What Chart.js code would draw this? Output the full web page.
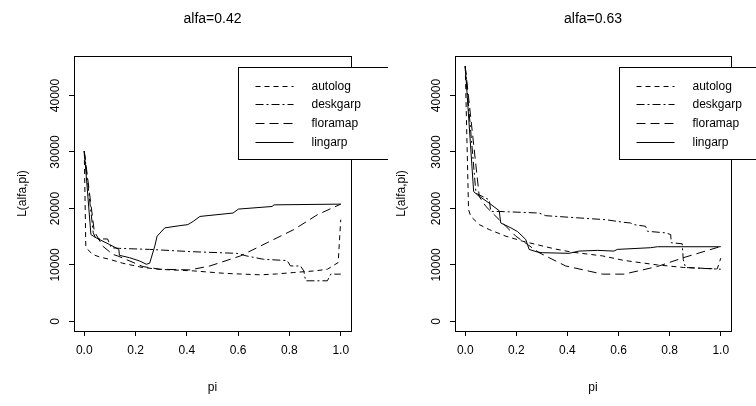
<!DOCTYPE html>
<html>
<head>
<meta charset="utf-8">
<script src="https://cdn.jsdelivr.net/npm/chart.js@4/dist/chart.umd.min.js"></script>
<style>
  body { margin: 0; background: #fff; }
  #wrap { position: relative; width: 756px; height: 406px; overflow: hidden; background: #fff; }
  #wrap canvas { position: absolute; top: 0; }
</style>
</head>
<body>
<div id="wrap">
  <canvas id="chart-042" width="388" height="406" style="left:0px"></canvas>
  <canvas id="chart-063" width="377" height="406" style="left:379px"></canvas>
</div>
<script>
// values
const panelTitles = ['alfa=0.42', 'alfa=0.63'];
const seriesNames = ['autolog', 'deskgarp', 'floramap', 'lingarp'];
const xTicks = [0, 0.2, 0.4, 0.6, 0.8, 1.0];
const yTicks = [0, 10000, 20000, 30000, 40000];

// alfa = 0.42
const autolog42Pi = [0, 0.006, 0.013, 0.033, 0.06, 0.098, 0.15, 0.228, 0.3, 0.425, 0.55, 0.686, 0.75, 0.817, 0.9, 0.948, 0.99, 1.0];
const autolog42L = [30170, 13330, 12750, 11870, 11400, 11000, 10300, 9540, 9200, 8950, 8500, 8250, 8400, 8660, 8950, 9240, 10420, 18010];
const deskgarp42Pi = [0, 0.035, 0.046, 0.091, 0.105, 0.137, 0.255, 0.418, 0.595, 0.634, 0.699, 0.791, 0.804, 0.843, 0.856, 0.863, 0.948, 0.961, 1.0];
const deskgarp42L = [30170, 15700, 14600, 14600, 13050, 12930, 12750, 12350, 12050, 11580, 11000, 10770, 9820, 9820, 8950, 7190, 7190, 8370, 8370];
const floramap42Pi = [0, 0.039, 0.072, 0.111, 0.131, 0.229, 0.294, 0.412, 0.49, 0.608, 0.713, 0.817, 0.909, 1.0];
const floramap42L = [30170, 15960, 13330, 11870, 11580, 9710, 9240, 9120, 9820, 11580, 13930, 16260, 18890, 20770];
const lingarp42Pi = [0, 0.026, 0.046, 0.098, 0.135, 0.137, 0.176, 0.216, 0.242, 0.255, 0.275, 0.284, 0.314, 0.373, 0.404, 0.425, 0.451, 0.58, 0.601, 0.732, 0.74, 1.0];
const lingarp42L = [30170, 15380, 14800, 13630, 12750, 11700, 11290, 10700, 10120, 10300, 13330, 15090, 16560, 16960, 17140, 17720, 18590, 19190, 19890, 20350, 20640, 20770];

// alfa = 0.63
const autolog63Pi = [0, 0.013, 0.022, 0.055, 0.094, 0.159, 0.224, 0.289, 0.354, 0.42, 0.537, 0.621, 0.752, 0.855, 0.986, 1.0];
const autolog63L = [45200, 19800, 18590, 17140, 16260, 15090, 14210, 13500, 12800, 12250, 11600, 10800, 10000, 9550, 9300, 11200];
const deskgarp63Pi = [0, 0.042, 0.081, 0.094, 0.1, 0.133, 0.289, 0.315, 0.55, 0.621, 0.647, 0.66, 0.706, 0.713, 0.784, 0.804, 0.806, 0.849, 0.853, 0.862, 1.0];
const deskgarp63L = [45200, 22700, 21820, 21520, 19470, 19470, 19190, 18720, 18010, 17540, 17430, 17140, 16840, 15960, 15680, 15380, 13930, 13750, 11000, 9540, 9240];
const floramap63Pi = [0, 0.055, 0.081, 0.133, 0.198, 0.289, 0.393, 0.537, 0.621, 0.752, 0.855, 0.992, 1.0];
const floramap63L = [45200, 22100, 20350, 18010, 15090, 12170, 9820, 8370, 8370, 9720, 11300, 13160, 13200];
const lingarp63Pi = [0, 0.033, 0.048, 0.094, 0.133, 0.139, 0.179, 0.205, 0.237, 0.25, 0.283, 0.302, 0.406, 0.445, 0.517, 0.582, 0.595, 0.725, 0.752, 1.0];
const lingarp63L = [45200, 22980, 22400, 20940, 19600, 17430, 16560, 15900, 14500, 12750, 12280, 12170, 12050, 12450, 12580, 12450, 12750, 13050, 13220, 13220];

// R line types: dashed, dotdash, longdash, solid
const lineDashes = [[5, 4], [8, 3, 2, 3], [9, 5], []];

Chart.defaults.font.family = "'Liberation Sans', Arial, Helvetica, sans-serif";
Chart.defaults.font.size = 12;
Chart.defaults.color = '#000';

const zip = (xs, ys) => xs.map((x, i) => ({ x: x, y: ys[i] }));

// plot box + legend, drawn the way R's box() and legend() look
const boxAndLegend = {
  id: 'boxAndLegend',
  afterDatasetsDraw(chart) {
    const { ctx, chartArea: a } = chart;
    ctx.save();
    ctx.strokeStyle = '#000';
    ctx.lineWidth = 1;
    ctx.setLineDash([]);
    ctx.strokeRect(a.left + 0.5, a.top + 0.5, a.right - a.left, a.bottom - a.top);

    const lx = Math.round(a.left + 163.5) + 0.5;
    const ly = a.top + 11.5;
    ctx.fillStyle = '#fff';
    ctx.fillRect(lx, ly, 200, 92);
    ctx.strokeRect(lx, ly, 200, 92);

    ctx.font = "12px 'Liberation Sans', Arial, sans-serif";
    ctx.textBaseline = 'middle';
    ctx.fillStyle = '#000';
    chart.data.datasets.forEach((ds, i) => {
      const y = Math.round(ly + 18 + i * 18.7) + 0.5;
      ctx.setLineDash(ds.borderDash);
      ctx.beginPath();
      ctx.moveTo(lx + 17, y);
      ctx.lineTo(lx + 55, y);
      ctx.stroke();
      ctx.fillText(ds.label, lx + 73, y);
    });
    ctx.restore();
  }
};

const makeChart = (canvasId, title, pis, values, areaLeft, padRight) => {
  const datasets = seriesNames.map((name, i) => ({
    label: name,
    data: zip(pis[i], values[i]),
    borderColor: '#000',
    borderWidth: 1,
    borderDash: lineDashes[i],
    pointRadius: 0,
    showLine: true,
    fill: false,
    tension: 0
  }));

  return new Chart(document.getElementById(canvasId).getContext('2d'), {
    type: 'scatter',
    data: { datasets: datasets },
    options: {
      responsive: false,
      animation: false,
      events: [],
      layout: { padding: { left: 0, right: padRight, top: 0, bottom: 0 } },
      plugins: {
        legend: { display: false },
        tooltip: { enabled: false },
        title: {
          display: true,
          text: title,
          fullSize: false,
          color: '#000',
          font: { size: 14, weight: 'normal' },
          padding: { top: 10.6, bottom: 28.6 }
        }
      },
      scales: {
        x: {
          type: 'linear',
          min: -0.04,
          max: 1.04,
          afterBuildTicks: s => { s.ticks = xTicks.map(v => ({ value: v })); },
          afterFit: s => { s.height = 75; },
          border: { display: false },
          grid: { display: true, drawOnChartArea: false, drawTicks: true, tickLength: 5, color: '#000' },
          ticks: {
            padding: 7.8,
            maxRotation: 0,
            autoSkip: false,
            color: '#000',
            callback: v => Number(v).toFixed(1)
          },
          title: { display: true, text: 'pi', color: '#000', padding: { top: 0, bottom: 10.8 } }
        },
        y: {
          type: 'linear',
          min: -1700,
          max: 47000,
          afterBuildTicks: s => { s.ticks = yTicks.map(v => ({ value: v })); },
          afterFit: s => { s.width = areaLeft; },
          border: { display: false },
          grid: { display: true, drawOnChartArea: false, drawTicks: true, tickLength: 5, color: '#000' },
          ticks: {
            minRotation: 90,
            maxRotation: 90,
            crossAlign: 'center',
            padding: -3.4,
            autoSkip: false,
            color: '#000',
            callback: v => String(v)
          },
          title: { display: true, text: 'L(alfa,pi)', color: '#000', padding: { top: 15.5, bottom: 0 } }
        }
      }
    },
    plugins: [boxAndLegend]
  });
};

makeChart('chart-042', panelTitles[0],
  [autolog42Pi, deskgarp42Pi, floramap42Pi, lingarp42Pi],
  [autolog42L, deskgarp42L, floramap42L, lingarp42L], 74, 37);

makeChart('chart-063', panelTitles[1],
  [autolog63Pi, deskgarp63Pi, floramap63Pi, lingarp63Pi],
  [autolog63L, deskgarp63L, floramap63L, lingarp63L], 76, 25);
</script>
</body>
</html>
